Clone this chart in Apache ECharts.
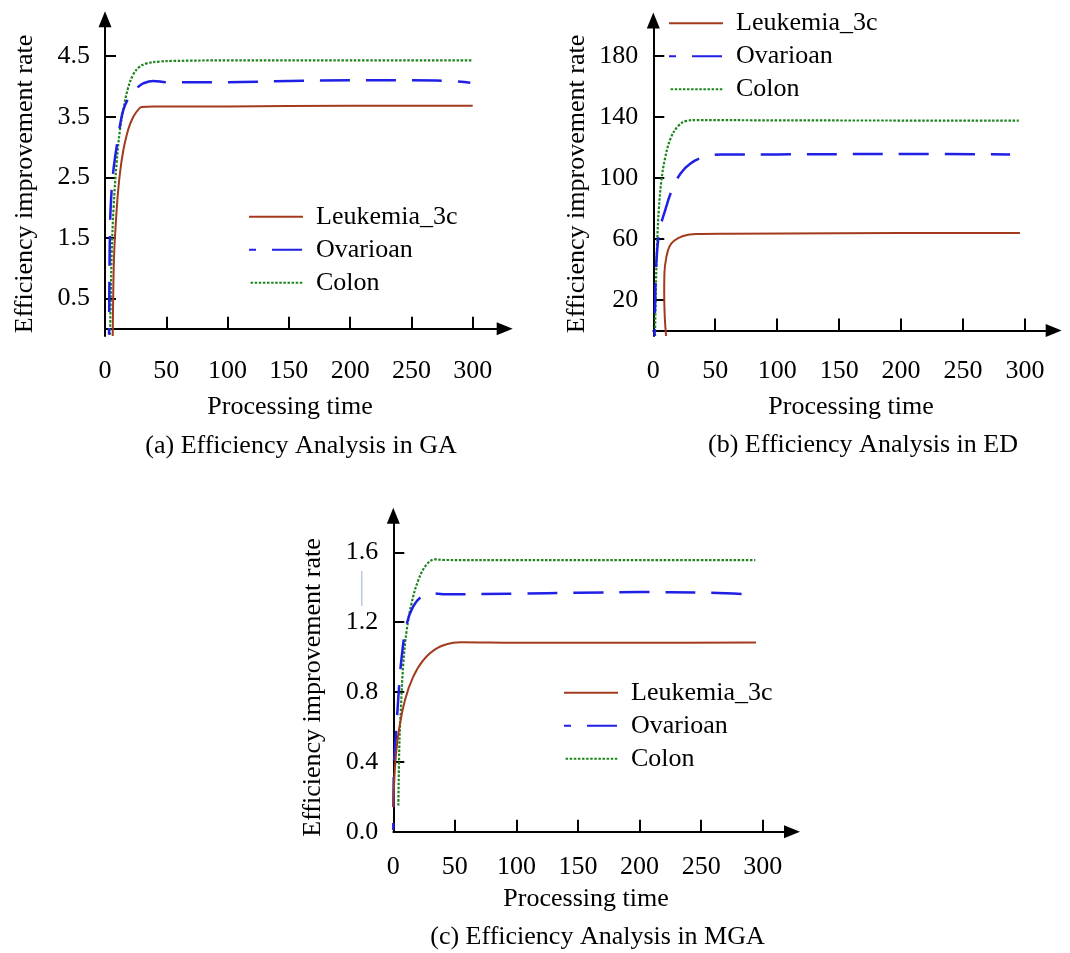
<!DOCTYPE html>
<html>
<head>
<meta charset="utf-8">
<script src="https://cdn.jsdelivr.net/npm/echarts@6/dist/echarts.min.js"></script>
<style>
html,body{margin:0;padding:0;background:#fff;}
#chart{width:1070px;height:953px;}
</style>
</head>
<body>
<div id="chart"></div>
<script>
// ---------- data ----------
const seriesNames = ['Leukemia_3c', 'Ovarioan', 'Colon'];
const xTickInterval = 50;

// (a) GA
const gaYTicks = [0.5, 1.5, 2.5, 3.5, 4.5];
const gaLeukT = [6.3, 6.8, 7.6, 9.0, 10.6, 12.5, 15, 17.7, 20.5, 23.5, 26.5, 30, 40, 100, 200, 300];
const gaLeukV = [-0.12, 0.69, 1.3, 1.8, 2.25, 2.62, 2.95, 3.2, 3.38, 3.51, 3.6, 3.66, 3.67, 3.67, 3.68, 3.68];
const gaOvarT = [3.3, 3.6, 4.1, 5, 6.3, 8, 9.5, 12, 14.9, 19, 23.1, 27, 31.2, 39.4, 50.3, 100, 150, 200, 250, 280, 298];
const gaOvarV = [-0.1, 0.8, 1.68, 2.15, 2.51, 2.8, 3.0, 3.33, 3.61, 3.8, 3.91, 3.99, 4.05, 4.09, 4.07, 4.07, 4.09, 4.1, 4.1, 4.09, 4.06];
const gaColonT = [4.1, 4.8, 5.5, 7, 9.5, 12, 14.9, 18.5, 23.1, 28, 34, 45, 55.5, 100, 200, 300];
const gaColonV = [-0.1, 0.6, 1.25, 2.0, 2.74, 3.25, 3.61, 3.95, 4.2, 4.32, 4.38, 4.41, 4.42, 4.43, 4.43, 4.43];

// (b) ED
const edYTicks = [20, 60, 100, 140, 180];
const edLeukT = [10.3, 9.2, 8.8, 9.0, 10.5, 13, 17, 24, 35, 60, 150, 250, 296];
const edLeukV = [-3.6, 10, 25, 38, 48, 55, 59, 62, 63.3, 63.5, 63.8, 64, 64];
const edOvarT = [1, 1.5, 2.5, 5, 10, 15, 22, 30, 40, 55, 100, 200, 288];
const edOvarV = [-3.6, 20, 45, 65, 80, 92, 103, 109.5, 113.5, 115.5, 115.5, 115.8, 115.5];
const edColonT = [1.4, 2, 3, 4.5, 6.5, 9.5, 14, 20, 27, 35, 100, 200, 295];
const edColonV = [-3.6, 25, 55, 80, 98, 113, 126, 134, 137.5, 138, 137.8, 137.7, 137.6];

// (c) MGA
const mgaYTicks = [0, 0.4, 0.8, 1.2, 1.6];
const mgaLeukT = [0, 1.4, 4.1, 9.5, 16.2, 24.4, 35.3, 48.7, 55, 100, 200, 294.6];
const mgaLeukV = [0.14, 0.37, 0.56, 0.754, 0.888, 0.983, 1.05, 1.082, 1.085, 1.082, 1.082, 1.083];
const mgaOvarT = [0, 0.6, 2.2, 4.1, 6.8, 10.9, 16.2, 23, 31.2, 40.6, 100, 150, 200, 250, 288];
const mgaOvarV = [0.01, 0.39, 0.56, 0.77, 1.0, 1.19, 1.29, 1.346, 1.365, 1.36, 1.363, 1.368, 1.372, 1.37, 1.36];
const mgaColonT = [4.1, 4.9, 6, 8.1, 10.9, 14.9, 20.3, 27.1, 33.9, 40.6, 100, 200, 294];
const mgaColonV = [0.15, 0.49, 0.68, 0.96, 1.155, 1.31, 1.44, 1.53, 1.56, 1.556, 1.555, 1.555, 1.555];

// ---------- styling ----------
const FONT = '"Liberation Serif", "Times New Roman", serif';
const FS = 26;
const colors = ['#a23b1e', '#1f1fe6', '#1e841e'];
const lineStyles = [
  { color: colors[0], width: 2, type: 'solid' },
  { color: colors[1], width: 2.5, type: [30, 16], dashOffset: 23 },
  { color: colors[2], width: 2.2, type: [2.5, 1.6] }
];

function zip(t, v) { return t.map((x, i) => [x, v[i]]); }

const panels = [
  { grid: { left: 105, top: 19.2, width: 399.7, height: 316.8 }, xMax: 326.1, yMin: -0.119, yMax: 5.109, yTicks: gaYTicks, fmt: v => String(v),
    data: [zip(gaLeukT, gaLeukV), zip(gaOvarT, gaOvarV), zip(gaColonT, gaColonV)],
    legend: { left: 248, top: 203.7 } },
  { grid: { left: 653.3, top: 20.5, width: 400.4, height: 315.5 }, xMax: 323.2, yMin: -3.6, yMax: 203.3, yTicks: edYTicks, fmt: v => String(v),
    data: [zip(edLeukT, edLeukV), zip(edOvarT, edOvarV), zip(edColonT, edColonV)],
    legend: { left: 668, top: 10.3 } },
  { grid: { left: 393.3, top: 515.8, width: 398.7, height: 315.9 }, xMax: 323.8, yMin: 0, yMax: 1.809, yTicks: mgaYTicks, fmt: v => v.toFixed(1),
    data: [zip(mgaLeukT, mgaLeukV), zip(mgaOvarT, mgaOvarV), zip(mgaColonT, mgaColonV)],
    legend: { left: 563, top: 679.7 } }
];

const axisLineCommon = { show: true, symbol: ['none', 'triangle'], symbolSize: [13, 16], lineStyle: { color: '#000', width: 2 } };
const labelCommon = { color: '#000', fontFamily: FONT, fontSize: FS };

const option = {
  animation: false,
  backgroundColor: '#fff',
  grid: panels.map(p => Object.assign({ containLabel: false }, p.grid)),
  xAxis: panels.map((p, i) => ({
    type: 'value', gridIndex: i, min: 0, max: p.xMax, interval: xTickInterval,
    axisLine: axisLineCommon,
    axisTick: { show: true, inside: true, length: 12, lineStyle: { color: '#000', width: 2 } },
    axisLabel: Object.assign({ margin: 22, showMaxLabel: false }, labelCommon),
    splitLine: { show: false }
  })),
  yAxis: panels.map((p, i) => ({
    type: 'value', gridIndex: i, min: p.yMin, max: p.yMax,
    axisLine: axisLineCommon,
    axisTick: { show: true, inside: true, length: 11, customValues: p.yTicks, lineStyle: { color: '#000', width: 2 } },
    axisLabel: Object.assign({ margin: 15, customValues: p.yTicks, formatter: p.fmt }, labelCommon),
    splitLine: { show: false }
  })),
  legend: panels.map((p, i) => ({
    orient: 'vertical', left: p.legend.left, top: p.legend.top, padding: 0,
    itemWidth: 54, itemHeight: 14, itemGap: 7,
    data: seriesNames,
    selectedMode: false,
    itemStyle: { opacity: 0, borderWidth: 0 },
    textStyle: { color: '#000', fontFamily: FONT, fontSize: FS, padding: [0, 0, 0, 8] }
  })),
  series: [],
  graphic: []
};

panels.forEach((p, gi) => {
  seriesNames.forEach((name, si) => {
    option.series.push({
      type: 'line', name: name, xAxisIndex: gi, yAxisIndex: gi,
      data: p.data[si], showSymbol: false, symbol: 'none',
      smooth: 0.4,
      lineStyle: lineStyles[si], itemStyle: { color: colors[si] },
      z: 3 - si
    });
  });
});

function txt(text, x, y, rot) {
  return {
    type: 'text', x: x, y: y, rotation: rot || 0, silent: true,
    style: { text: text, font: FS + 'px ' + FONT, fill: '#000',
      textAlign: 'center', textVerticalAlign: 'middle', align: 'center', verticalAlign: 'middle' }
  };
}
option.graphic = [
  txt('Efficiency improvement rate', 25, 184, Math.PI / 2),
  txt('Efficiency improvement rate', 576.7, 184, Math.PI / 2),
  txt('Efficiency improvement rate', 313.3, 687.5, Math.PI / 2),
  txt('Processing time', 290, 407),
  txt('Processing time', 851, 407),
  txt('Processing time', 586, 899),
  txt('(a) Efficiency Analysis in GA', 301, 446),
  txt('(b) Efficiency Analysis in ED', 863, 445),
  txt('(c) Efficiency Analysis in MGA', 597.5, 937),
  { type: 'line', silent: true, shape: { x1: 361.7, y1: 571, x2: 361.7, y2: 606 }, style: { stroke: '#b9c9e2', lineWidth: 1.5 } }
];

const chart = echarts.init(document.getElementById('chart'), null, { renderer: 'canvas' });
chart.setOption(option);
</script>
</body>
</html>
